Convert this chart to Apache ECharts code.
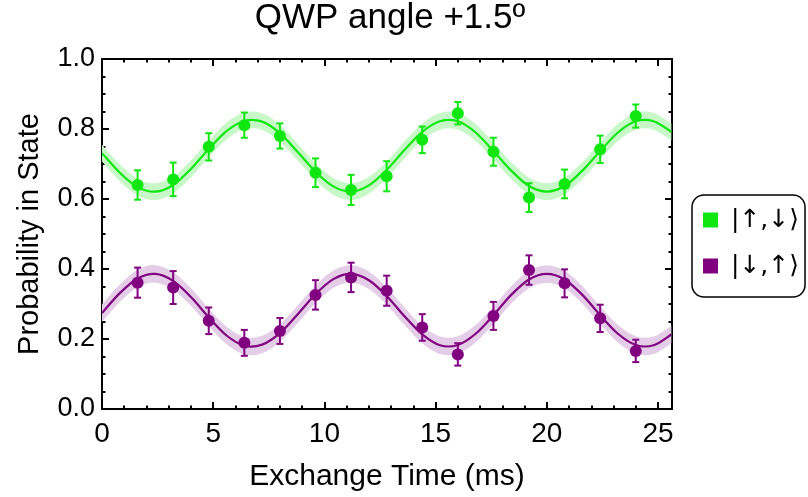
<!DOCTYPE html>
<html>
<head>
<meta charset="utf-8">
<script src="https://cdn.jsdelivr.net/npm/echarts@6/dist/echarts.min.js"></script>
<style>
  html, body { margin: 0; padding: 0; background: #fff; }
  #chart { width: 808px; height: 497px; }
</style>
</head>
<body>
<div id="chart"></div>
<script>
// Measured populations vs exchange time
const times = [1.6, 3.2, 4.8, 6.4, 8.0, 9.6, 11.2, 12.8, 14.4, 16.0, 17.6, 19.2, 20.8, 22.4, 24.0];
const upDown = [0.640, 0.656, 0.749, 0.811, 0.780, 0.675, 0.626, 0.665, 0.769, 0.845, 0.735, 0.604, 0.643, 0.742, 0.837];
const upDownErr = [0.042, 0.048, 0.039, 0.036, 0.036, 0.041, 0.043, 0.043, 0.038, 0.032, 0.040, 0.041, 0.041, 0.039, 0.033];
const downUp = [0.361, 0.347, 0.252, 0.189, 0.223, 0.326, 0.376, 0.338, 0.233, 0.156, 0.266, 0.397, 0.359, 0.259, 0.166];
const downUpErr = [0.043, 0.047, 0.038, 0.037, 0.037, 0.042, 0.042, 0.043, 0.038, 0.032, 0.040, 0.042, 0.040, 0.039, 0.032];

// Fitted curves, sampled along the time axis
const fitTimes = [0, 0.8, 1.6, 2.4, 3.2, 4.0, 4.8, 5.6, 6.4, 7.2, 8.0, 8.8, 9.6, 10.4, 11.2, 12.0, 12.8,
  13.6, 14.4, 15.2, 16.0, 16.8, 17.6, 18.4, 19.2, 20.0, 20.8, 21.6, 22.4, 23.2, 24.0, 24.8, 25.6];
const upDownFit = [0.731, 0.675, 0.634, 0.621, 0.640, 0.686, 0.743, 0.794, 0.823, 0.821, 0.788, 0.734,
  0.678, 0.636, 0.621, 0.639, 0.683, 0.740, 0.792, 0.822, 0.822, 0.790, 0.737, 0.681, 0.637, 0.621,
  0.637, 0.681, 0.737, 0.790, 0.822, 0.822, 0.792];
const downUpFit = [0.274, 0.331, 0.373, 0.386, 0.366, 0.320, 0.262, 0.210, 0.181, 0.184, 0.217, 0.271,
  0.328, 0.371, 0.386, 0.368, 0.323, 0.265, 0.213, 0.182, 0.183, 0.215, 0.268, 0.326, 0.370, 0.386,
  0.370, 0.326, 0.268, 0.215, 0.183, 0.182, 0.213];
// Half-width of the fit confidence band
const upDownBand = 0.024;
const downUpBand = 0.025;

const xTicks = [0, 5, 10, 15, 20, 25];
const yTicks = [0.0, 0.2, 0.4, 0.6, 0.8, 1.0];

const GREEN = '#10e610';
const PURPLE = '#800080';
const GREEN_BAND = '#c8f7c8';
const PURPLE_BAND = '#e4cde7';
const FONT = 'Liberation Sans, Arial, sans-serif';

const X_MAX = 25.63;

function pairs(xs, ys) { return xs.map((x, i) => [x, ys[i]]); }

// Cubic (Catmull-Rom) path through a list of pixel points
function smoothPath(pts, cmd) {
  let d = cmd + pts[0][0].toFixed(2) + ' ' + pts[0][1].toFixed(2);
  for (let i = 0; i < pts.length - 1; i++) {
    const p0 = pts[Math.max(i - 1, 0)], p1 = pts[i], p2 = pts[i + 1], p3 = pts[Math.min(i + 2, pts.length - 1)];
    const c1x = p1[0] + (p2[0] - p0[0]) / 6, c1y = p1[1] + (p2[1] - p0[1]) / 6;
    const c2x = p2[0] - (p3[0] - p1[0]) / 6, c2y = p2[1] - (p3[1] - p1[1]) / 6;
    d += ' C' + c1x.toFixed(2) + ' ' + c1y.toFixed(2) + ' ' + c2x.toFixed(2) + ' ' + c2y.toFixed(2) +
      ' ' + p2[0].toFixed(2) + ' ' + p2[1].toFixed(2);
  }
  return d;
}

// Confidence band around a fit curve
function bandSeries(curve, half, color) {
  return {
    type: 'custom', z: 1, silent: true, clip: true,
    data: fitTimes.map((t, i) => [t, curve[i] - half, curve[i] + half]),
    renderItem: function (params, api) {
      if (params.dataIndex !== 0) return null;
      const upper = fitTimes.map((t, i) => api.coord([t, curve[i] + half]));
      const lower = fitTimes.map((t, i) => api.coord([t, curve[i] - half])).reverse();
      return {
        type: 'path',
        shape: { pathData: smoothPath(upper, 'M') + ' ' + smoothPath(lower, 'L') + ' Z' },
        style: { fill: color, stroke: null }
      };
    }
  };
}

// Fit curve itself
function fitLine(curve, color) {
  return {
    type: 'custom', z: 3, silent: true, clip: true,
    data: pairs(fitTimes, curve),
    renderItem: function (params, api) {
      if (params.dataIndex !== 0) return null;
      const pts = fitTimes.map((t, i) => api.coord([t, curve[i]]));
      return {
        type: 'path',
        shape: { pathData: smoothPath(pts, 'M') },
        style: { fill: null, stroke: color, lineWidth: 2.2 }
      };
    }
  };
}

function errorBarSeries(values, errs, color) {
  return {
    type: 'custom',
    z: 4,
    data: times.map((t, i) => [t, values[i], errs[i]]),
    renderItem: function (params, api) {
      const x = api.value(0), y = api.value(1), e = api.value(2);
      const top = api.coord([x, y + e]);
      const bot = api.coord([x, y - e]);
      const cap = 3.5;
      const style = { stroke: color, lineWidth: 2 };
      return {
        type: 'group',
        children: [
          { type: 'line', shape: { x1: top[0], y1: top[1], x2: bot[0], y2: bot[1] }, style: style },
          { type: 'line', shape: { x1: top[0] - cap, y1: top[1], x2: top[0] + cap, y2: top[1] }, style: style },
          { type: 'line', shape: { x1: bot[0] - cap, y1: bot[1], x2: bot[0] + cap, y2: bot[1] }, style: style }
        ]
      };
    }
  };
}

const tickStyle = { color: '#000', width: 2 };
const axisLine = { show: true, onZero: false, lineStyle: { color: '#000', width: 2 } };

function xAxisDef(position, interval, len, labels) {
  return {
    type: 'value', position: position, min: 0, max: X_MAX, interval: interval,
    axisLine: axisLine,
    axisTick: { show: true, inside: true, length: len, lineStyle: tickStyle },
    axisLabel: labels ? {
      show: true, fontSize: 28, color: '#000', fontFamily: FONT, margin: 11,
      formatter: v => (xTicks.indexOf(v) >= 0 ? String(v) : '')
    } : { show: false },
    splitLine: { show: false }
  };
}

function yAxisDef(position, interval, len, labels) {
  return {
    type: 'value', position: position, min: 0, max: 1, interval: interval,
    axisLine: axisLine,
    axisTick: { show: true, inside: true, length: len, lineStyle: tickStyle },
    axisLabel: labels ? {
      show: true, fontSize: 27, color: '#000', fontFamily: FONT, margin: 7,
      formatter: v => {
        const k = yTicks.findIndex(t => Math.abs(t - v) < 1e-9);
        return k >= 0 ? yTicks[k].toFixed(1) : '';
      }
    } : { show: false },
    splitLine: { show: false }
  };
}

const xAxes = [
  xAxisDef('bottom', 5, 7, true),
  xAxisDef('bottom', 1, 3.5, false),
  xAxisDef('top', 5, 7, false),
  xAxisDef('top', 1, 3.5, false)
];
xAxes[0].name = 'Exchange Time (ms)';
xAxes[0].nameLocation = 'middle';
xAxes[0].nameGap = 53;
xAxes[0].nameTextStyle = { fontSize: 30, color: '#000', fontFamily: FONT };

const yAxes = [
  yAxisDef('left', 0.2, 7, true),
  yAxisDef('left', 0.05, 3.5, false),
  yAxisDef('right', 0.2, 7, false),
  yAxisDef('right', 0.05, 3.5, false)
];
yAxes[0].name = 'Probability in State';
yAxes[0].nameLocation = 'middle';
yAxes[0].nameGap = 58;
yAxes[0].nameTextStyle = { fontSize: 29, color: '#000', fontFamily: FONT };

const series = [
  bandSeries(upDownFit, upDownBand, GREEN_BAND),
  bandSeries(downUpFit, downUpBand, PURPLE_BAND),
  fitLine(upDownFit, GREEN),
  fitLine(downUpFit, PURPLE),
  errorBarSeries(upDown, upDownErr, GREEN),
  errorBarSeries(downUp, downUpErr, PURPLE),
  {
    name: '|\u2191,\u2193\u27E9', type: 'scatter', data: pairs(times, upDown),
    symbolSize: 12, itemStyle: { color: GREEN, opacity: 1 }, z: 5
  },
  {
    name: '|\u2193,\u2191\u27E9', type: 'scatter', data: pairs(times, downUp),
    symbolSize: 12, itemStyle: { color: PURPLE, opacity: 1 }, z: 5
  }
];

const chart = echarts.init(document.getElementById('chart'), null, { renderer: 'canvas' });
chart.setOption({
  animation: false,
  backgroundColor: '#fff',
  title: {
    text: 'QWP angle +1.5\u00BA',
    left: 385, top: -4, textAlign: 'center',
    textStyle: { fontSize: 35, fontWeight: 'normal', color: '#000', fontFamily: FONT }
  },
  grid: { left: 102, top: 59, right: 136, bottom: 88, containLabel: false },
  xAxis: xAxes,
  yAxis: yAxes,
  legend: {
    orient: 'vertical', left: 692, top: 195,
    data: [
      { name: '|\u2191,\u2193\u27E9', icon: 'rect', itemStyle: { color: GREEN } },
      { name: '|\u2193,\u2191\u27E9', icon: 'rect', itemStyle: { color: PURPLE } }
    ],
    itemWidth: 15, itemHeight: 15, itemGap: 20,
    padding: [12, 6, 18, 11],
    borderColor: '#000', borderWidth: 1.5, borderRadius: 12,
    textStyle: { fontSize: 25, color: '#000', fontFamily: 'DejaVu Sans, sans-serif', lineHeight: 26, padding: [0, 0, 0, 8] },
    selectedMode: false
  },
  series: series
});
</script>
</body>
</html>
